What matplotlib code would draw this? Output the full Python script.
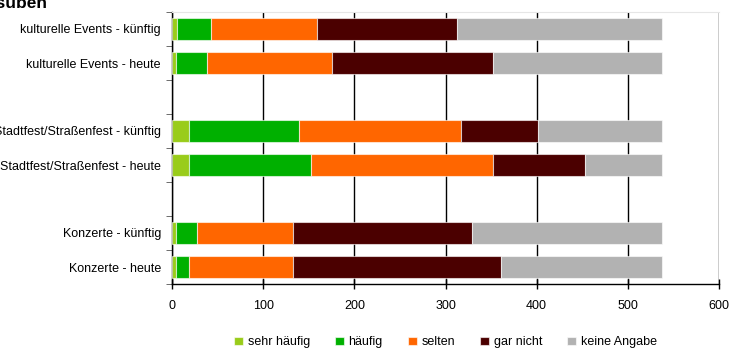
import matplotlib
matplotlib.use("Agg")
import matplotlib.pyplot as plt
import numpy as np

plt.rcParams["font.family"] = ["Liberation Sans", "DejaVu Sans"]

# Reihen von unten nach oben, None = Leerzeile zwischen den Gruppen
kategorien = ["Konzerte - heute", "Konzerte - künftig", None,
              "Stadtfest/Straßenfest - heute", "Stadtfest/Straßenfest - künftig", None,
              "kulturelle Events - heute", "kulturelle Events - künftig"]

antworten = ["sehr häufig", "häufig", "selten", "gar nicht", "keine Angabe"]
farben = ["#99cc1a", "#00b000", "#ff6600", "#4b0000", "#b2b2b2"]

sehr_haeufig = [4, 4, 0, 19, 19, 0, 4, 5]
haeufig      = [15, 23, 0, 134, 120, 0, 34, 38]
selten       = [114, 106, 0, 199, 178, 0, 137, 116]
gar_nicht    = [228, 196, 0, 101, 85, 0, 177, 154]
keine_angabe = [177, 209, 0, 85, 136, 0, 186, 225]

serien = [sehr_haeufig, haeufig, selten, gar_nicht, keine_angabe]

fig = plt.figure(figsize=(7.29, 3.49), dpi=100)
ax = fig.add_axes([172 / 729, 1 - 284 / 349, 547 / 729, 272 / 349])

y = np.arange(len(kategorien))
belegt = np.array([k is not None for k in kategorien])
links = np.zeros(len(kategorien))
for name, werte, farbe in zip(antworten, serien, farben):
    werte = np.array(werte, dtype=float)
    ax.barh(y[belegt], werte[belegt], left=links[belegt], height=0.65, color=farbe,
            label=name, edgecolor=(1, 1, 1, 0.6), linewidth=0.8, zorder=3)
    links += werte

ax.set_xlim(0, 600)
ax.set_ylim(-0.5, len(kategorien) - 0.5)
ax.set_xticks(np.arange(0, 601, 100))
ax.grid(axis="x", color="black", linewidth=1, zorder=0)

ax.set_yticks(y)
ax.set_yticklabels([k if k else "" for k in kategorien], fontsize=9)
ax.tick_params(axis="y", length=0, pad=8)
ax.set_yticks(np.arange(-0.5, len(kategorien)), minor=True)
ax.tick_params(axis="y", which="minor", length=4, color="#555555")
ax.tick_params(axis="x", direction="inout", length=7, width=1, labelsize=9, pad=8)

ax.spines["right"].set_visible(False)
ax.spines["top"].set_color("#e6e6e6")
ax.spines["left"].set_linewidth(1)
ax.spines["bottom"].set_linewidth(1)

fig.text(47 / 729, 1 - 8 / 349, "Aktivitäten ausüben", ha="right", va="baseline",
         fontsize=12.5, fontweight="bold")

ax.legend(loc="center", bbox_to_anchor=(0.5, -0.215), ncol=5, frameon=False,
          fontsize=9, handlelength=0.7, handleheight=0.7, handletextpad=0.4,
          columnspacing=2.0)

fig.savefig("out.png", dpi=100)
